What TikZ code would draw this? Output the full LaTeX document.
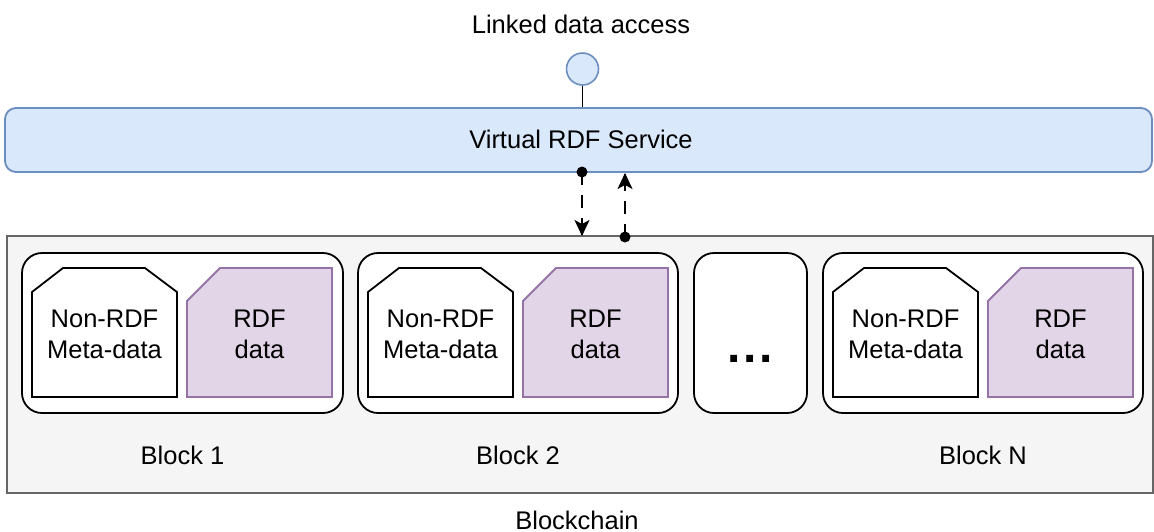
\documentclass[tikz,border=0pt]{standalone}
\usepackage{fontspec}
\setmainfont{Liberation Sans}
\usetikzlibrary{arrows.meta}
\definecolor{svcfill}{HTML}{DAE8FC}
\definecolor{svcline}{HTML}{6C8EBF}
\definecolor{chainfill}{HTML}{F5F5F5}
\definecolor{chainline}{HTML}{666666}
\definecolor{rdffill}{HTML}{E1D5E7}
\definecolor{rdfline}{HTML}{9673A6}
\begin{document}
\begin{tikzpicture}[x=1pt,y=-1pt,
  txt/.style={font=\fontsize{25.5}{30.5}\selectfont, align=center, inner sep=0pt},
  blockbox/.style={draw=black, fill=white, line width=1.8pt, rounded corners=20pt, inner sep=0pt},
  metabox/.style={draw=black, fill=white, line width=1.8pt},
  rdfbox/.style={draw=rdfline, fill=rdffill, line width=1.8pt},
  flow/.style={dash pattern=on 13pt off 10pt, line width=1.8pt, shorten >=12pt},
  tiponly/.style={solid, line width=1.8pt, -{Stealth[length=16pt,width=15pt,inset=4pt]}},
  enddot/.style={fill=black}]
\useasboundingbox (0,0) rectangle (1154,531);

% blockchain container
\node[draw=chainline, fill=chainfill, line width=1.8pt, minimum width=1146pt, minimum height=257pt, inner sep=0pt] (chain) at (580,364.5) {};
\node[txt, anchor=base] (chainlbl) at (577,529) {Blockchain};

% virtual RDF service
\node[draw=svcline, fill=svcfill, line width=1.8pt, rounded corners=11pt, minimum width=1147pt, minimum height=64pt, inner sep=0pt] (svc) at (578.5,140) {};
\node[txt, anchor=base] (svclbl) at (581,148) {Virtual RDF Service};

% linked data access
\node[draw=svcline, fill=svcfill, line width=1.6pt, circle, minimum size=32pt, inner sep=0pt] (acc) at (582.5,69) {};
\node[txt, anchor=base] (acclbl) at (581,33) {Linked data access};
\draw[line width=1.8pt] (acc.south) -- (acc.south |- svc.north);

% blocks
\node[blockbox, minimum width=321pt, minimum height=160pt] (b1) at (182.5,333) {};
\node[blockbox, minimum width=320pt, minimum height=160pt] (b2) at (518,333) {};
\node[blockbox, minimum width=113pt, minimum height=160pt] (bd) at (750.5,333) {};
\node[blockbox, minimum width=320pt, minimum height=160pt] (bn) at (983,333) {};

\node[anchor=base, inner sep=0pt, font=\fontsize{48}{48}\selectfont\bfseries] (dots) at (750,362) {.\kern3pt.\kern3pt.};

\foreach \L/\n in {32/1, 368/2, 833/N}{
  \draw[metabox] (\L,397) -- (\L,292) -- (\L+31,268) -- (\L+113,268) -- (\L+145,292) -- (\L+145,397) -- cycle;
  \draw[rdfbox] (\L+155,397) -- (\L+155,301) -- (\L+188,268) -- (\L+300,268) -- (\L+300,397) -- cycle;
  \node[txt] (meta\n) at (\L+72.5,334.5) {Non-RDF\\Meta-data};
  \node[txt] (rdf\n) at (\L+227.5,334.5) {RDF\\data};
}
\node[txt, anchor=base] (l1) at (b1.center |- 0,464) {Block 1};
\node[txt, anchor=base] (l2) at (b2.center |- 0,464) {Block 2};
\node[txt, anchor=base] (ln) at (bn.center |- 0,464) {Block N};

% request / response connectors
\coordinate (qs) at (582,172);
\coordinate (qe) at (582,236);
\coordinate (rs) at (625,237);
\coordinate (re) at (625,173);
\draw[flow] (qs) -- (qe);
\draw[tiponly] ([yshift=1pt]qe) -- (qe);
\draw[flow] (rs) -- (re);
\draw[tiponly] ([yshift=-1pt]re) -- (re);
\fill[enddot] (qs) circle (5.5pt);
\fill[enddot] (rs) circle (5.5pt);
\end{tikzpicture}
\end{document}
